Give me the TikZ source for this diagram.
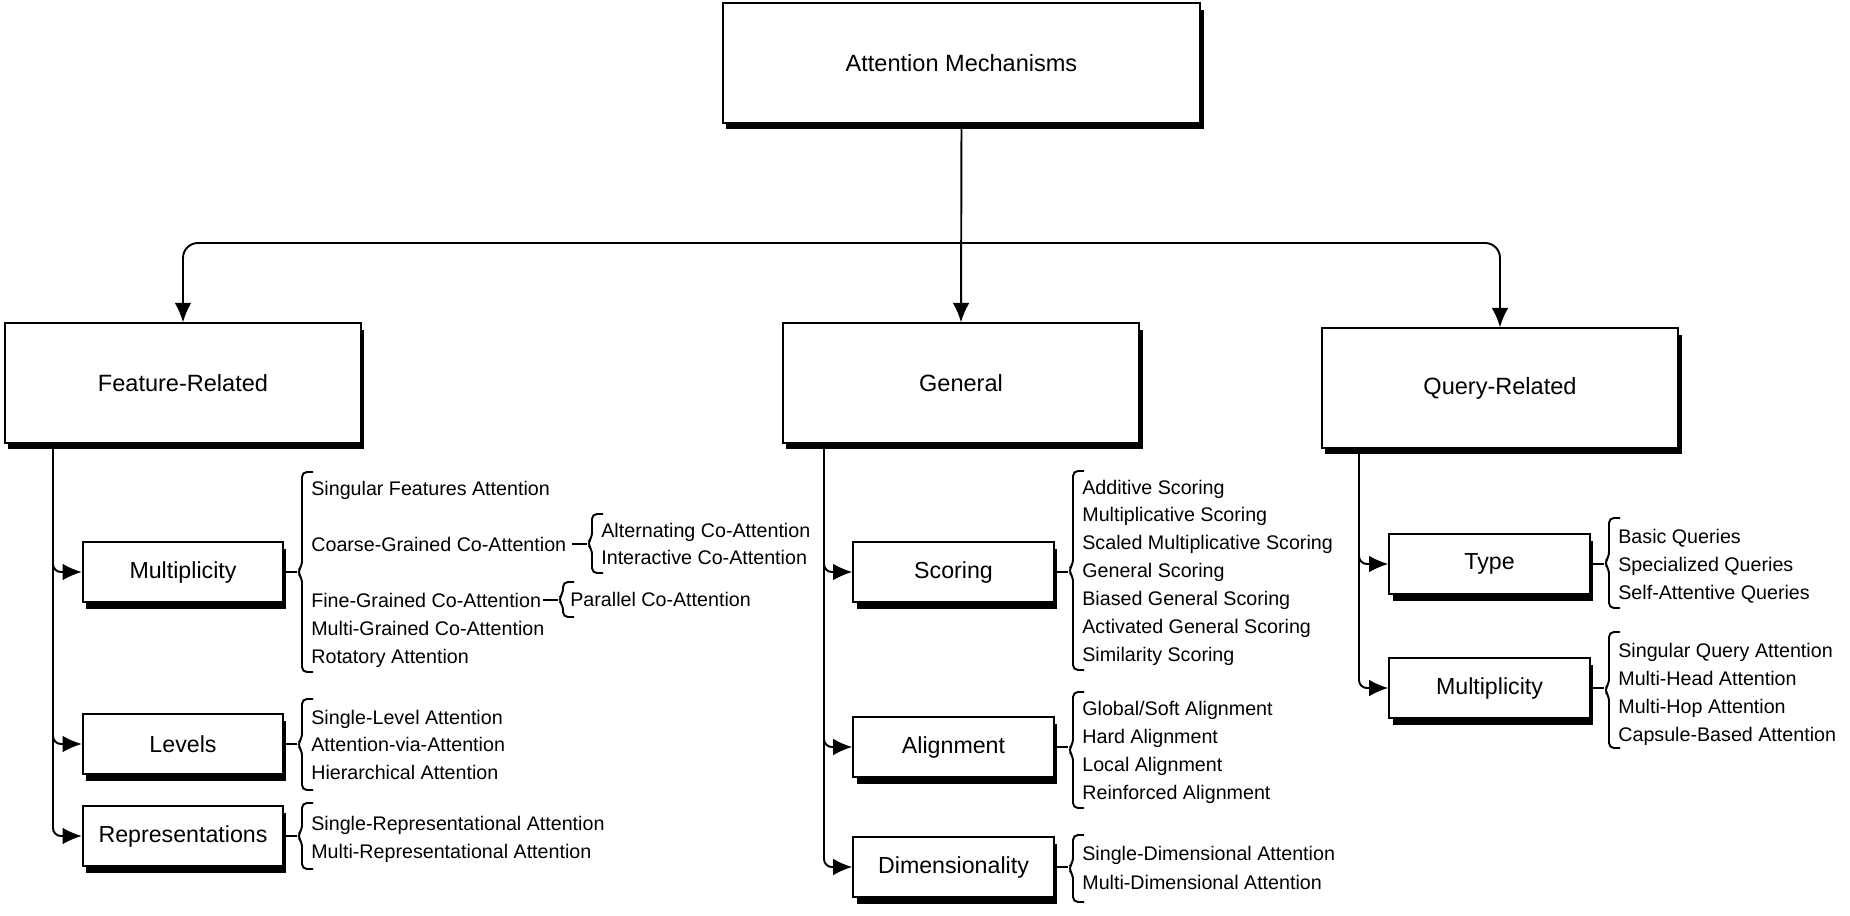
\documentclass[tikz,border=0pt]{standalone}
\usepackage{fontspec}
\setmainfont{Liberation Sans}
\usetikzlibrary{arrows.meta}
\usetikzlibrary{shadows}

\newcommand{\drawbrace}[4]{%
  \draw[bracepath] ({#2+11},#3) -- (#2,#3) -- (#2,{(#3+#4)/2-6}) -- ({#2-5},{(#3+#4)/2})
    -- (#2,{(#3+#4)/2+6}) -- (#2,#4) -- ({#2+11},#4);
  \coordinate (#1) at ({#2-5},{(#3+#4)/2});
}

\begin{document}
\begin{tikzpicture}[x=0.02cm, y=-0.02cm,
    box/.style={draw, line width=1.1pt, fill=white, inner sep=0pt,
      drop shadow={shadow xshift=1.8pt, shadow yshift=-3.8pt, fill=black, opacity=1}},
    bigbox/.style={box, minimum width=272pt, minimum height=68pt, font=\fontsize{13.4}{16}\selectfont},
    catbox/.style={box, minimum width=203pt, minimum height=68pt, font=\fontsize{13.4}{16}\selectfont},
    subbox/.style={box, minimum width=114pt, minimum height=34pt, font=\fontsize{13.2}{16}\selectfont},
    item/.style={anchor=west, inner sep=0pt, text height=8pt, text depth=0pt, font=\fontsize{11.2}{13}\selectfont},
    link/.style={line width=1.1pt, -{Latex[length=11pt, width=9.5pt]}},
    branch/.style={link, rounded corners=4.5pt},
    tick/.style={line width=1.1pt},
    bracepath/.style={line width=1.1pt, rounded corners=2.8pt}]

      \useasboundingbox (0,0) rectangle (1850,916);

      \node[bigbox] (root) at (961.5,63) {Attention Mechanisms};
      \node[catbox] (feature) at (183,383) {Feature-Related};
      \node[catbox] (general) at (961,383) {General};
      \node[catbox] (query) at (1500,388) {Query-Related};

      \coordinate (bus) at (961,243);
      \draw[link] (root.south) -- (general.north);
      \draw[link, rounded corners=8.5pt] (bus) -| (feature.north);
      \draw[link, rounded corners=8.5pt] (bus) -| (query.north);

      \node[subbox] (fmult) at (183,572) {Multiplicity};
      \node[subbox] (levels) at (183,744) {Levels};
      \node[subbox] (repr) at (183,836) {Representations};

      \node[subbox] (scoring) at (953.5,572) {Scoring};
      \node[subbox] (align) at (953.5,747) {Alignment};
      \node[subbox] (dim) at (953.5,867) {Dimensionality};

      \node[subbox] (type) at (1489.5,564) {Type};
      \node[subbox] (qmult) at (1489.5,688) {Multiplicity};

      \coordinate (ftrunk) at (53,443);
      \draw[branch] (ftrunk) |- (fmult.west);
      \draw[branch] (ftrunk) |- (levels.west);
      \draw[branch] (ftrunk) |- (repr.west);

      \coordinate (gtrunk) at (824,443);
      \draw[branch] (gtrunk) |- (scoring.west);
      \draw[branch] (gtrunk) |- (align.west);
      \draw[branch] (gtrunk) |- (dim.west);

      \coordinate (qtrunk) at (1359,448);
      \draw[branch] (qtrunk) |- (type.west);
      \draw[branch] (qtrunk) |- (qmult.west);

      \drawbrace{fmultTip}{302}{472}{672}
      \drawbrace{levelsTip}{302}{699}{790}
      \drawbrace{reprTip}{302}{803}{869}
      \drawbrace{scoringTip}{1073}{471}{670}
      \drawbrace{alignTip}{1073}{692}{808}
      \drawbrace{dimTip}{1073}{835}{902}
      \drawbrace{typeTip}{1609}{518}{608}
      \drawbrace{qmultTip}{1609}{632}{748}
      \drawbrace{coarseTip}{592}{514}{573}
      \drawbrace{fineTip}{563}{582}{617}

      \draw[tick] (fmult.east) -- (fmult.east -| fmultTip);
      \draw[tick] (levels.east) -- (levels.east -| levelsTip);
      \draw[tick] (repr.east) -- (repr.east -| reprTip);
      \draw[tick] (scoring.east) -- (scoring.east -| scoringTip);
      \draw[tick] (align.east) -- (align.east -| alignTip);
      \draw[tick] (dim.east) -- (dim.east -| dimTip);
      \draw[tick] (type.east) -- (type.east -| typeTip);
      \draw[tick] (qmult.east) -- (qmult.east -| qmultTip);

      \node[item] (singular) at (311,488) {Singular Features Attention};
      \node[item] (coarse) at (311,544) {Coarse-Grained Co-Attention};
      \node[item] (fine) at (311,600) {Fine-Grained Co-Attention};
      \node[item] (multigrained) at (311,628) {Multi-Grained Co-Attention};
      \node[item] (rotatory) at (311,656) {Rotatory Attention};
      \node[item] (alternating) at (601,530) {Alternating Co-Attention};
      \node[item] (interactive) at (601,557) {Interactive Co-Attention};
      \node[item] (parallel) at (570,599) {Parallel Co-Attention};
      \draw[tick, shorten <=3pt] (coarse.east) -- (coarse.east -| coarseTip);
      \draw[tick, shorten <=1pt] (fine.east) -- (fine.east -| fineTip);

      \node[item] (singlelevel) at (311,717) {Single-Level Attention};
      \node[item] (viaatt) at (311,744) {Attention-via-Attention};
      \node[item] (hierarchical) at (311,772) {Hierarchical Attention};

      \node[item] (singlerep) at (311,823) {Single-Representational Attention};
      \node[item] (multirep) at (311,851) {Multi-Representational Attention};

      \node[item] (additive) at (1082,487) {Additive Scoring};
      \node[item] (multiplicative) at (1082,514) {Multiplicative Scoring};
      \node[item] (scaled) at (1082,542) {Scaled Multiplicative Scoring};
      \node[item] (generalsc) at (1082,570) {General Scoring};
      \node[item] (biased) at (1082,598) {Biased General Scoring};
      \node[item] (activated) at (1082,626) {Activated General Scoring};
      \node[item] (similarity) at (1082,654) {Similarity Scoring};

      \node[item] (globalal) at (1082,708) {Global/Soft Alignment};
      \node[item] (hardal) at (1082,736) {Hard Alignment};
      \node[item] (localal) at (1082,764) {Local Alignment};
      \node[item] (reinforced) at (1082,792) {Reinforced Alignment};

      \node[item] (singledim) at (1082,853) {Single-Dimensional Attention};
      \node[item] (multidim) at (1082,882) {Multi-Dimensional Attention};

      \node[item] (basic) at (1618,536) {Basic Queries};
      \node[item] (specialized) at (1618,564) {Specialized Queries};
      \node[item] (selfatt) at (1618,592) {Self-Attentive Queries};

      \node[item] (singleq) at (1618,650) {Singular Query Attention};
      \node[item] (multihead) at (1618,678) {Multi-Head Attention};
      \node[item] (multihop) at (1618,706) {Multi-Hop Attention};
      \node[item] (capsule) at (1618,734) {Capsule-Based Attention};

    \end{tikzpicture}
\end{document}
